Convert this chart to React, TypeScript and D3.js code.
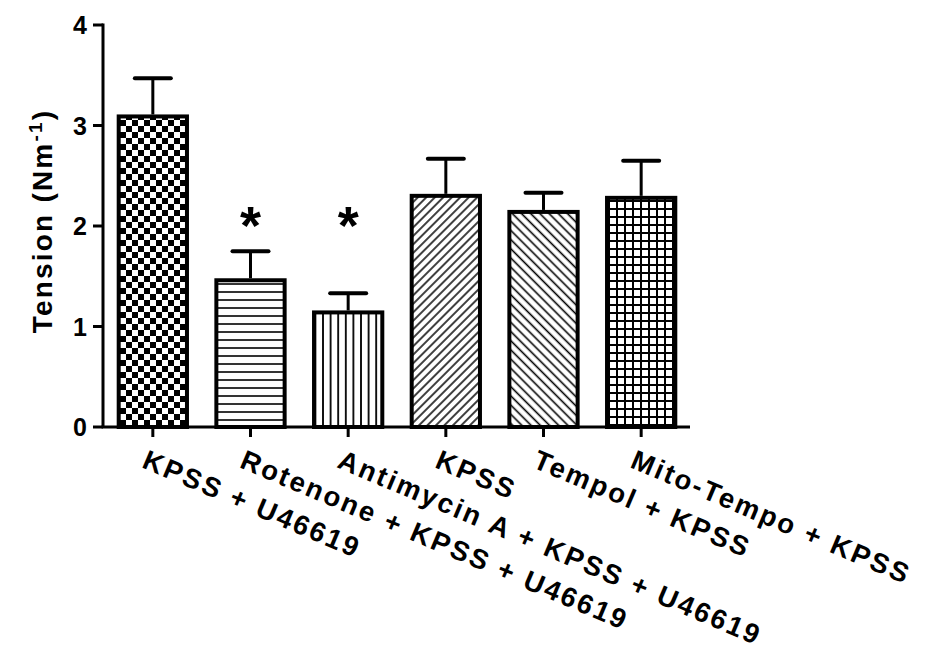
import React from "react";
import * as d3 from "d3";

const categories = [
  "KPSS + U46619",
  "Rotenone + KPSS + U46619",
  "Antimycin A + KPSS + U46619",
  "KPSS",
  "Tempol + KPSS",
  "Mito-Tempo + KPSS",
];
const means = [3.11, 1.48, 1.16, 2.32, 2.16, 2.3];
const errors = [0.36, 0.27, 0.17, 0.35, 0.17, 0.35];
const significant = [false, true, true, false, false, false];
const patterns = ["checker", "hlines", "vlines", "diagR", "diagL", "grid"];
const yTicks = [0, 1, 2, 3, 4];
const starLevel = 2.12;

const W = 931;
const H = 653;
const FONT = "'Liberation Sans', Arial, sans-serif";

export default function App() {
  const y = d3.scaleLinear().domain([0, 4]).range([427, 25]);
  const x = d3.scaleBand<string>().domain(categories).range([104, 690]);
  const step = x.step();
  const barW = step * 0.74;
  const y0 = y(0);

  return (
    <svg
      width={W}
      height={H}
      style={{ position: "absolute", left: 0, top: 0, background: "#fff" }}
    >
      <defs>
        <pattern id="checker" width={12} height={12} patternUnits="userSpaceOnUse">
          <rect width={12} height={12} fill="#fff" />
          <rect x={0} y={0} width={6} height={6} fill="#000" />
          <rect x={6} y={6} width={6} height={6} fill="#000" />
        </pattern>
        <pattern id="hlines" width={8} height={8} patternUnits="userSpaceOnUse">
          <rect width={8} height={8} fill="#fff" />
          <line x1={0} x2={8} y1={4} y2={4} stroke="#000" strokeWidth={1.6} />
        </pattern>
        <pattern id="vlines" width={7.6} height={8} patternUnits="userSpaceOnUse">
          <rect width={7.6} height={8} fill="#fff" />
          <line x1={3.8} x2={3.8} y1={0} y2={8} stroke="#000" strokeWidth={1.8} />
        </pattern>
        <pattern id="diagR" width={6} height={6} patternUnits="userSpaceOnUse" patternTransform="rotate(45)">
          <rect width={6} height={6} fill="#fff" />
          <line x1={3} x2={3} y1={0} y2={6} stroke="#000" strokeWidth={1.5} />
        </pattern>
        <pattern id="diagL" width={6.5} height={6.5} patternUnits="userSpaceOnUse" patternTransform="rotate(-45)">
          <rect width={6.5} height={6.5} fill="#fff" />
          <line x1={3.25} x2={3.25} y1={0} y2={6.5} stroke="#000" strokeWidth={1.6} />
        </pattern>
        <pattern id="grid" width={8} height={8} patternUnits="userSpaceOnUse">
          <rect width={8} height={8} fill="#fff" />
          <line x1={0} x2={8} y1={1} y2={1} stroke="#000" strokeWidth={2} />
          <line x1={1} x2={1} y1={0} y2={8} stroke="#000" strokeWidth={2} />
        </pattern>
      </defs>

      {/* error bars */}
      {categories.map((c, i) => {
        const cx = (x(c) as number) + step / 2;
        return (
          <g key={"e" + c}>
            <line x1={cx} x2={cx} y1={y(means[i])} y2={y(means[i] + errors[i])} stroke="#000" strokeWidth={3} />
            <line x1={cx - 18} x2={cx + 18} y1={y(means[i] + errors[i])} y2={y(means[i] + errors[i])} stroke="#000" strokeWidth={4} strokeLinecap="round" />
          </g>
        );
      })}

      {/* bars */}
      {categories.map((c, i) => {
        const cx = (x(c) as number) + step / 2;
        return (
          <rect
            key={"b" + c}
            x={cx - barW / 2 + 2}
            y={y(means[i]) + 2}
            width={barW - 4}
            height={y0 - y(means[i]) - 2}
            fill={`url(#${patterns[i]})`}
            stroke="#000"
            strokeWidth={4}
          />
        );
      })}

      {/* significance stars */}
      {categories.map((c, i) =>
        significant[i] ? (
          <text
            key={"s" + c}
            x={(x(c) as number) + step / 2}
            y={y(starLevel)}
            textAnchor="middle"
            fontFamily={FONT}
            fontWeight="bold"
            fontSize={54}
            dy="0.55em"
          >
            *
          </text>
        ) : null
      )}

      {/* y axis */}
      <line x1={103} x2={103} y1={y(4) - 1.5} y2={y0} stroke="#000" strokeWidth={3} />
      {yTicks.map((t) => (
        <g key={"yt" + t}>
          <line x1={93} x2={103} y1={y(t)} y2={y(t)} stroke="#000" strokeWidth={3} />
          <text
            x={87}
            y={y(t)}
            dy="0.36em"
            textAnchor="end"
            fontFamily={FONT}
            fontWeight="bold"
            fontSize={25}
          >
            {t}
          </text>
        </g>
      ))}
      <text
        transform={`translate(52,${221}) rotate(-90)`}
        textAnchor="middle"
        fontFamily={FONT}
        fontWeight="bold"
        fontSize={28}
        letterSpacing={2.2}
      >
        Tension (Nm
        <tspan dy={-10} fontSize={19}>-1</tspan>
        <tspan dy={10}>)</tspan>
      </text>

      {/* x axis */}
      <line x1={101.5} x2={690} y1={y0} y2={y0} stroke="#000" strokeWidth={3} />
      {categories.map((c) => {
        const cx = (x(c) as number) + step / 2;
        return (
          <g key={"xt" + c}>
            <line x1={cx} x2={cx} y1={y0} y2={y0 + 10} stroke="#000" strokeWidth={3} />
            <text
              transform={`translate(${cx - 4},${448}) rotate(23)`}
              dy="0.75em"
              fontFamily={FONT}
              fontWeight="bold"
              fontSize={27.5}
              letterSpacing={2.4}
            >
              {c}
            </text>
          </g>
        );
      })}
    </svg>
  );
}
